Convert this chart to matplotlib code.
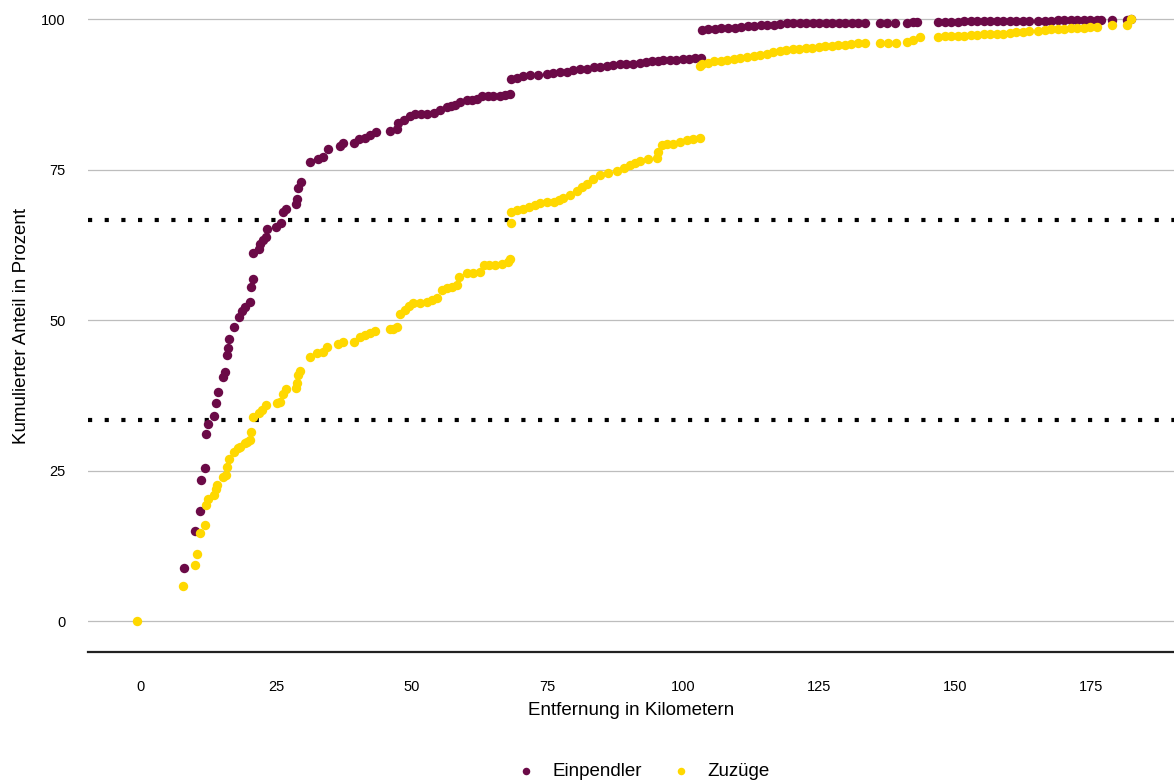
import matplotlib
matplotlib.use("Agg")
import matplotlib.pyplot as plt

# Kumulierte Anteile (Prozent) nach Entfernung (km)
einpendler_km = [
    8.0, 10.1, 11.0, 11.2, 11.9, 12.2, 12.4, 13.6, 13.9, 14.3,
    15.3, 15.6, 16.0, 16.2, 16.3, 17.2, 18.1, 18.7, 19.3, 20.2,
    20.4, 20.7, 20.7, 21.8, 22.1, 22.6, 23.1, 23.3, 25.0, 25.9,
    26.3, 26.9, 28.7, 28.8, 29.0, 29.6, 31.3, 32.7, 33.7, 34.5,
    36.7, 37.3, 39.4, 40.2, 41.4, 42.3, 43.4, 46.0, 47.2, 47.5,
    48.5, 49.7, 50.6, 51.7, 52.8, 54.0, 55.2, 56.4, 57.2, 58.0,
    58.9, 60.1, 61.0, 62.0, 62.9, 64.0, 65.0, 66.2, 67.1, 68.0,
    68.3, 69.3, 70.5, 71.8, 73.3, 74.8, 76.0, 77.3, 78.5, 79.7,
    81.0, 82.2, 83.5, 84.7, 85.9, 87.1, 88.3, 89.5, 90.8, 92.0,
    93.1, 94.2, 95.3, 96.3, 97.5, 98.7, 99.9, 101.1, 102.2, 103.3,
    103.4, 104.6, 105.8, 107.0, 108.2, 109.4, 110.6, 111.8, 113.0, 114.2,
    115.4, 116.6, 117.8, 119.0, 120.2, 121.4, 122.6, 123.8, 125.0, 126.2,
    127.4, 128.6, 129.8, 131.0, 132.2, 133.4, 136.2, 137.5, 138.9, 141.1,
    142.2, 142.9, 146.9, 148.1, 149.3, 150.5, 151.7, 152.9, 154.1, 155.3,
    156.5, 157.7, 158.9, 160.1, 161.3, 162.5, 163.7, 165.3, 166.5, 167.7,
    168.9, 170.1, 171.3, 172.5, 173.7, 174.9, 176.1, 176.9, 178.8, 181.6,
    182.4,
]
einpendler_pct = [
    8.8, 14.9, 18.3, 23.5, 25.5, 31.0, 32.7, 34.1, 36.3, 38.1,
    40.5, 41.3, 44.2, 45.3, 46.8, 48.9, 50.5, 51.5, 52.1, 53.0,
    55.5, 56.8, 61.2, 61.9, 62.7, 63.3, 63.8, 65.1, 65.5, 66.1,
    68.0, 68.5, 69.3, 70.2, 72.0, 72.9, 76.2, 76.7, 77.1, 78.4,
    78.9, 79.5, 79.5, 80.1, 80.3, 80.8, 81.3, 81.4, 81.7, 82.8,
    83.3, 83.9, 84.3, 84.3, 84.3, 84.4, 84.9, 85.4, 85.6, 85.7,
    86.3, 86.5, 86.6, 86.7, 87.2, 87.2, 87.2, 87.2, 87.4, 87.6,
    90.0, 90.3, 90.5, 90.7, 90.8, 90.9, 91.1, 91.2, 91.3, 91.5,
    91.7, 91.8, 92.0, 92.1, 92.2, 92.4, 92.5, 92.6, 92.6, 92.7,
    92.9, 93.0, 93.1, 93.2, 93.3, 93.3, 93.4, 93.4, 93.5, 93.5,
    98.2, 98.3, 98.4, 98.5, 98.5, 98.6, 98.7, 98.8, 98.9, 99.0,
    99.0, 99.1, 99.2, 99.3, 99.3, 99.3, 99.4, 99.4, 99.4, 99.4,
    99.4, 99.4, 99.4, 99.4, 99.4, 99.4, 99.4, 99.4, 99.4, 99.4,
    99.5, 99.5, 99.5, 99.5, 99.6, 99.6, 99.7, 99.7, 99.7, 99.7,
    99.7, 99.7, 99.7, 99.7, 99.7, 99.7, 99.7, 99.7, 99.7, 99.7,
    99.8, 99.8, 99.8, 99.8, 99.8, 99.8, 99.8, 99.8, 99.8, 99.8,
    100.0,
]

zuzuege_km = [
    -0.6, 7.9, 10.1, 10.4, 11.0, 11.9, 12.1, 12.5, 13.5, 14.0,
    14.2, 15.3, 15.8, 15.9, 16.3, 17.2, 18.0, 18.4, 19.3, 19.6,
    20.2, 20.4, 20.7, 21.8, 22.4, 23.2, 25.2, 25.8, 26.3, 26.9,
    28.7, 28.8, 29.0, 29.4, 31.3, 32.5, 33.7, 34.4, 36.5, 37.4,
    39.3, 40.5, 41.4, 42.3, 43.2, 46.0, 46.6, 47.2, 47.8, 48.8,
    49.5, 50.3, 51.5, 52.8, 53.7, 54.6, 55.5, 56.5, 57.4, 58.3,
    58.6, 60.1, 61.3, 62.6, 63.2, 64.2, 65.3, 66.6, 67.7, 68.1,
    68.3, 68.3, 69.4, 70.5, 71.6, 72.6, 73.6, 74.8, 76.1, 77.0,
    77.9, 79.2, 80.4, 81.3, 82.2, 83.4, 84.7, 86.2, 87.7, 89.0,
    90.2, 91.1, 92.0, 93.5, 95.1, 95.4, 96.0, 97.0, 98.1, 99.4,
    100.6, 101.8, 103.1, 103.1, 103.4, 104.5, 105.7, 106.9, 108.1, 109.3,
    110.5, 111.7, 112.9, 114.1, 115.3, 116.5, 117.7, 118.9, 120.1, 121.3,
    122.5, 123.7, 124.9, 126.1, 127.3, 128.5, 129.7, 130.9, 132.1, 133.4,
    136.2, 137.7, 139.2, 141.1, 142.3, 143.5, 146.9, 148.1, 149.3, 150.5,
    151.7, 152.9, 154.1, 155.3, 156.5, 157.7, 158.9, 160.1, 161.3, 162.5,
    163.7, 165.3, 166.5, 167.7, 168.9, 170.1, 171.3, 172.5, 173.7, 174.9,
    176.1, 178.8, 181.6, 182.4,
]
zuzuege_pct = [
    0.0, 5.8, 9.3, 11.1, 14.7, 15.9, 19.3, 20.2, 20.9, 22.0,
    22.6, 24.0, 24.3, 25.6, 27.0, 28.1, 28.7, 29.0, 29.5, 29.8,
    30.1, 31.4, 33.9, 34.5, 35.0, 35.9, 36.2, 36.4, 37.8, 38.5,
    38.7, 39.5, 40.9, 41.6, 43.8, 44.5, 44.7, 45.5, 46.0, 46.3,
    46.4, 47.2, 47.5, 47.8, 48.2, 48.5, 48.6, 48.9, 51.0, 51.7,
    52.3, 52.8, 52.9, 53.0, 53.3, 53.6, 55.0, 55.3, 55.5, 55.8,
    57.2, 57.8, 57.9, 58.0, 59.1, 59.1, 59.1, 59.4, 59.6, 60.2,
    66.1, 68.0, 68.3, 68.5, 68.8, 69.1, 69.4, 69.6, 69.7, 70.0,
    70.3, 70.8, 71.5, 72.1, 72.7, 73.4, 74.1, 74.5, 74.8, 75.2,
    75.7, 76.1, 76.5, 76.7, 76.9, 78.0, 79.1, 79.2, 79.3, 79.6,
    79.9, 80.1, 80.3, 92.2, 92.6, 92.8, 93.0, 93.1, 93.3, 93.4,
    93.6, 93.8, 93.9, 94.1, 94.3, 94.6, 94.8, 94.9, 95.0, 95.1,
    95.2, 95.3, 95.4, 95.5, 95.6, 95.7, 95.8, 95.9, 96.0, 96.1,
    96.1, 96.1, 96.1, 96.2, 96.5, 97.0, 97.1, 97.2, 97.2, 97.3,
    97.3, 97.4, 97.4, 97.5, 97.5, 97.5, 97.6, 97.7, 97.8, 97.9,
    98.0, 98.1, 98.2, 98.3, 98.4, 98.4, 98.5, 98.5, 98.6, 98.7,
    98.7, 99.0, 99.0, 100.0,
]

drittel = [100 / 3, 200 / 3]
y_ticks = [0, 25, 50, 75, 100]
x_ticks = [0, 25, 50, 75, 100, 125, 150, 175]

plt.rcParams['font.family'] = ['Liberation Sans', 'DejaVu Sans']

fig = plt.figure(figsize=(11.74, 7.83), dpi=100)
ax = fig.add_axes([0.075, 0.1673, 0.925, 0.8327])

for y in y_ticks:
    ax.axhline(y, color='#bdbdbd', linewidth=0.9, zorder=0)
for y in drittel:
    ax.axhline(y, color='black', linewidth=3, linestyle=(0, (1, 3)),
               dash_capstyle='butt', zorder=1)

ax.scatter(einpendler_km, einpendler_pct, s=46, color='#6b0a47',
           linewidths=0, zorder=2, label='Einpendler')
ax.scatter(zuzuege_km, zuzuege_pct, s=46, color='#ffd800',
           linewidths=0, zorder=3, label='Zuzüge')

ax.set_xlim(-9.6, 190.3)
ax.set_ylim(-5.15, 103.2)
ax.set_xticks(x_ticks)
ax.set_yticks(y_ticks)
ax.tick_params(axis='both', length=0, labelsize=10.5, labelcolor='black')
ax.tick_params(axis='x', pad=20)
ax.tick_params(axis='y', pad=16)

for side in ['top', 'right', 'left']:
    ax.spines[side].set_visible(False)
ax.spines['bottom'].set_linewidth(1.6)
ax.spines['bottom'].set_color('#222222')

ax.set_xlabel('Entfernung in Kilometern', fontsize=13.5, labelpad=6)
ax.set_ylabel('Kumulierter Anteil in Prozent', fontsize=13.5, labelpad=8)

fig.legend(loc='center', bbox_to_anchor=(0.548, 0.015), ncol=2,
           frameon=False, fontsize=13.5, markerscale=0.8,
           handletextpad=0.9, columnspacing=1.6, handlelength=1.0)

fig.savefig('out.png', dpi=100)
